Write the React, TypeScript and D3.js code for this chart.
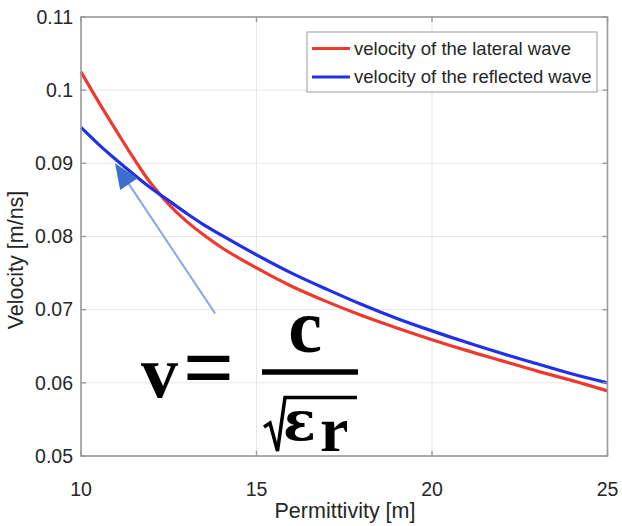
import React from "react";
import * as d3 from "d3";

// Permittivity sample points
const permittivity = [10, 10.5, 11, 11.5, 12, 12.5, 13, 13.5, 14, 15, 16, 17, 18, 19, 20, 21, 22, 23, 24, 25];
// velocity of the lateral wave
const lateralVelocity = [0.1025, 0.0984, 0.0945, 0.0907, 0.0872, 0.0844, 0.0821, 0.0802, 0.0785, 0.0757, 0.0732, 0.0711, 0.0692, 0.0675, 0.0659, 0.0644, 0.0630, 0.0616, 0.0603, 0.0589];
// velocity of the reflected wave
const reflectedVelocity = [0.0949, 0.0926, 0.0905, 0.0885, 0.0866, 0.0849, 0.0832, 0.0816, 0.0802, 0.0775, 0.0750, 0.0728, 0.0707, 0.0688, 0.0671, 0.0655, 0.0640, 0.0626, 0.0612, 0.0600];

const xTicks = [10, 15, 20, 25];
const yTicks = [0.05, 0.06, 0.07, 0.08, 0.09, 0.1, 0.11];
const seriesNames = ["velocity of the lateral wave", "velocity of the reflected wave"];
const seriesColors = ["#ee3a2c", "#2030e6"];
// annotation arrow (data coords): tail -> tip
const arrowTail = [13.82, 0.0695];
const arrowTip = [10.97, 0.0900];

const W = 622, H = 526;
const M = { left: 81, right: 607.5, top: 17, bottom: 456 };

export default function App() {
  const x = d3.scaleLinear().domain([10, 25]).range([M.left, M.right]);
  const y = d3.scaleLinear().domain([0.05, 0.11]).range([M.bottom, M.top]);
  const line = d3.line<number>()
    .x((_, i) => x(permittivity[i]))
    .y((d) => y(d))
    .curve(d3.curveCatmullRom.alpha(0.5));

  const font = "'Liberation Sans', Arial, Helvetica, sans-serif";
  const textColor = "#262626";
  const axisColor = "#9a9a9a";

  // arrow geometry
  const tx = x(arrowTail[0]), ty = y(arrowTail[1]);
  const hx = x(arrowTip[0]), hy = y(arrowTip[1]);
  const dx = hx - tx, dy = hy - ty;
  const len = Math.sqrt(dx * dx + dy * dy);
  const ux = dx / len, uy = dy / len;
  const headLen = 25, headHalf = 10.5;
  const bx = hx - ux * headLen, by = hy - uy * headLen;
  const px = -uy, py = ux;
  const head = `M${hx},${hy} L${bx + px * headHalf},${by + py * headHalf} L${bx - px * headHalf},${by - py * headHalf} Z`;

  return (
    <svg width={W} height={H} style={{ position: "absolute", left: 0, top: 0, background: "#fff" }}>
      {/* grid */}
      {xTicks.map((t) => (
        <line key={"gx" + t} x1={x(t)} x2={x(t)} y1={M.top} y2={M.bottom} stroke="#e6e6e6" strokeWidth={1} />
      ))}
      {yTicks.map((t) => (
        <line key={"gy" + t} x1={M.left} x2={M.right} y1={y(t)} y2={y(t)} stroke="#e6e6e6" strokeWidth={1} />
      ))}

      {/* curves */}
      <path d={line(lateralVelocity) || ""} fill="none" stroke={seriesColors[0]} strokeWidth={3.2} />
      <path d={line(reflectedVelocity) || ""} fill="none" stroke={seriesColors[1]} strokeWidth={3.2} />

      {/* box */}
      <rect x={M.left} y={M.top} width={M.right - M.left} height={M.bottom - M.top} fill="none" stroke={axisColor} strokeWidth={1.6} />
      {/* ticks */}
      {xTicks.map((t) => (
        <g key={"tx" + t}>
          <line x1={x(t)} x2={x(t)} y1={M.bottom} y2={M.bottom - 5} stroke={axisColor} strokeWidth={1.4} />
          <line x1={x(t)} x2={x(t)} y1={M.top} y2={M.top + 5} stroke={axisColor} strokeWidth={1.4} />
        </g>
      ))}
      {yTicks.map((t) => (
        <g key={"ty" + t}>
          <line x1={M.left} x2={M.left + 5} y1={y(t)} y2={y(t)} stroke={axisColor} strokeWidth={1.4} />
          <line x1={M.right} x2={M.right - 5} y1={y(t)} y2={y(t)} stroke={axisColor} strokeWidth={1.4} />
        </g>
      ))}

      {/* tick labels */}
      {xTicks.map((t) => (
        <text key={"lx" + t} x={x(t)} y={496} textAnchor="middle" fontFamily={font} fontSize={19.5} fill={textColor}>
          {d3.format("")(t)}
        </text>
      ))}
      {yTicks.map((t) => (
        <text key={"ly" + t} x={73} y={y(t)} dy="0.35em" textAnchor="end" fontFamily={font} fontSize={19.5} fill={textColor}>
          {d3.format("")(+t.toFixed(2))}
        </text>
      ))}

      {/* axis labels */}
      <text x={345} y={518} textAnchor="middle" fontFamily={font} fontSize={21.5} fill={textColor}>Permittivity [m]</text>
      <text transform="translate(23,260) rotate(-90)" textAnchor="middle" fontFamily={font} fontSize={21.5} fill={textColor}>Velocity [m/ns]</text>

      {/* legend */}
      <rect x={307} y={32} width={290} height={60} fill="#fff" stroke="#9a9a9a" strokeWidth={1} />
      {seriesNames.map((n, i) => (
        <g key={n}>
          <line x1={312} x2={350} y1={48.5 + i * 28.5} y2={48.5 + i * 28.5} stroke={seriesColors[i]} strokeWidth={3} />
          <text x={354} y={48.5 + i * 28.5} dy="0.35em" fontFamily={font} fontSize={18.5} fill={textColor}>{n}</text>
        </g>
      ))}

      {/* arrow */}
      <line x1={tx} y1={ty} x2={bx} y2={by} stroke="#86a9e6" strokeWidth={2} />
      <path d={head} fill="#3b6fcf" />

      {/* formula */}
      <g fontFamily="'Liberation Serif', 'Times New Roman', serif" fontWeight="bold" fill="#000">
        <text x={141} y={397} fontSize={74}>v</text>
        <text x={183} y={398} fontSize={90}>=</text>
        <text x={305} y={352} fontSize={76} textAnchor="middle">c</text>
        <line x1={262} x2={358} y1={372} y2={372} stroke="#000" strokeWidth={5.5} />
        <path d="M264,427 L270,423 L277.5,451 L285,397.5 L357,397.5" fill="none" stroke="#000" strokeWidth={3.5} strokeLinejoin="miter" />
        <text x={283} y={440} fontSize={54} fontFamily="'DejaVu Serif', serif">ε</text>
        <text x={320} y={451} fontSize={64}>r</text>
      </g>
    </svg>
  );
}
